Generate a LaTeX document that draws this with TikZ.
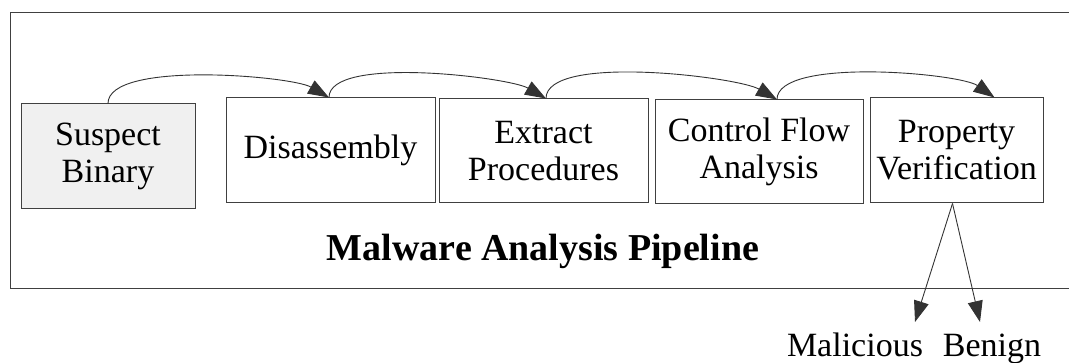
\documentclass[tikz,border=0pt]{standalone}
\usepackage{fontspec}
\setmainfont{Liberation Serif}
\usetikzlibrary{arrows.meta}

\begin{document}
\begin{tikzpicture}[x=1pt, y=-1pt,
  stage/.style={draw=black!75, line width=1pt, fill=white, align=center, inner sep=0pt,
    font=\fontsize{34}{37}\selectfont},
  flow/.style={black!80, line width=0.9pt, -{Triangle[length=21pt,width=15pt]}},
  lbl/.style={font=\fontsize{34}{37}\selectfont, anchor=base, inner sep=0pt}]
\useasboundingbox (0,0) rectangle (1069,363);

% Pipeline frame (open on the right)
\draw[black!75, line width=1pt] (1069,13) -- (10,13) -- (10,289) -- (1069,289);

% Stages
\node[stage, fill=gray!12, minimum width=174, minimum height=105] (sb) at (108,156.5) {Suspect\\Binary};
\node[stage, minimum width=209, minimum height=105] (dis) at (330.5,150.5) {Disassembly};
\node[stage, minimum width=209, minimum height=104] (ext) at (543.5,151) {Extract\\Procedures};
\node[stage, minimum width=208, minimum height=104] (cfa) at (759,152) {Control Flow\\Analysis};
\node[stage, minimum width=173, minimum height=105] (pv) at (956.5,150.5) {Property\\Verification};

% Title
\node[font=\fontsize{38}{40}\selectfont\bfseries, anchor=base] (title) at (543,261) {Malware Analysis Pipeline};

% Arrows between stages
\draw[flow] (sb.north) to[out=90, in=150, looseness=0.5] ([xshift=-1.5]dis.north);
\draw[flow] ([xshift=-1.5]dis.north) to[out=90, in=150, looseness=0.5] ([xshift=2.5]ext.north);
\draw[flow] ([xshift=2.5]ext.north) to[out=90, in=150, looseness=0.5] ([xshift=18]cfa.north);
\draw[flow] ([xshift=18]cfa.north) to[out=90, in=145, looseness=0.5] ([xshift=38]pv.north);

% Outcomes
\coordinate (tipm) at (915,322);
\coordinate (tipb) at (980,322);
\node[lbl] (mal) at (855,357) {Malicious};
\node[lbl] (ben) at (992,357) {Benign};
\draw[flow] ([xshift=-4]pv.south) -- (tipm);
\draw[flow] ([xshift=-4]pv.south) -- (tipb);

\end{tikzpicture}
\end{document}
